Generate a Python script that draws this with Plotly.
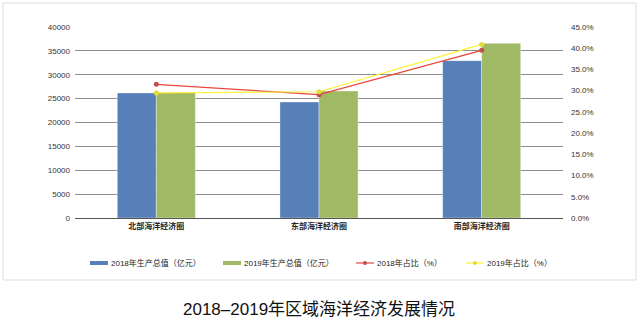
import plotly.graph_objects as go

# Regional ocean economy data
regions = ["北部海洋经济圈", "东部海洋经济圈", "南部海洋经济圈"]
gdp_2018 = [26200, 24300, 32950]          # 亿元
gdp_2019 = [26300, 26600, 36600]          # 亿元
share_2018 = [0.315, 0.2905, 0.395]       # 占比
share_2019 = [0.2945, 0.2975, 0.409]      # 占比

name_gdp18 = "2018年生产总值（亿元）"
name_gdp19 = "2019年生产总值（亿元）"
name_sh18 = "2018年占比（%）"
name_sh19 = "2019年占比（%）"

BLUE = "#5880B8"
GREEN = "#A0B964"
RED = "#E8473C"
RED_MK = "#C0504D"
YELLOW = "#FFF230"
YELLOW_MK = "#E6DB3A"

FONT = "Liberation Sans, Noto Sans CJK SC"

# plot area in pixels (used to place the legend row and frame)
L, R, T, B = 75, 563, 27, 218


def px_x(x):
    return (x - L) / (R - L)


def px_y(y):
    return (B - y) / (B - T)


fig = go.Figure()

fig.add_trace(go.Bar(x=regions, y=gdp_2018, name=name_gdp18, marker_color=BLUE,
                     marker_line=dict(color="rgba(255,255,255,0.6)", width=0.6)))
fig.add_trace(go.Bar(x=regions, y=gdp_2019, name=name_gdp19, marker_color=GREEN,
                     marker_line=dict(color="rgba(255,255,255,0.6)", width=0.6)))
fig.add_trace(go.Scatter(x=regions, y=share_2018, name=name_sh18, yaxis="y2",
                         mode="lines+markers", line=dict(color=RED, width=1.2),
                         marker=dict(color=RED_MK, size=5)))
fig.add_trace(go.Scatter(x=regions, y=share_2019, name=name_sh19, yaxis="y2",
                         mode="lines+markers", line=dict(color=YELLOW, width=1.2),
                         marker=dict(color=YELLOW_MK, size=5)))

# Custom legend row: short swatches followed by the series names
legend_items = [
    (name_gdp18, BLUE, None, 4, 90),
    (name_gdp19, GREEN, None, 4, 223),
    (name_sh18, RED, RED_MK, 1.2, 356),
    (name_sh19, YELLOW, YELLOW_MK, 1.2, 466),
]
shapes = [dict(type="rect", xref="paper", yref="paper",
               x0=px_x(3), x1=px_x(636), y0=px_y(280), y1=px_y(3),
               line=dict(color="#DDDDDD", width=1), layer="below")]
annotations = []
ly = 263
for name, color, mk, w, x0 in legend_items:
    shapes.append(dict(type="line", xref="paper", yref="paper",
                       x0=px_x(x0), x1=px_x(x0 + 18), y0=px_y(ly), y1=px_y(ly),
                       line=dict(color=color, width=w)))
    if mk:
        cx = x0 + 9
        shapes.append(dict(type="circle", xref="paper", yref="paper",
                           x0=px_x(cx - 2), x1=px_x(cx + 2),
                           y0=px_y(ly + 2), y1=px_y(ly - 2),
                           fillcolor=mk, line=dict(width=0)))
    annotations.append(dict(text=name, xref="paper", yref="paper",
                            x=px_x(x0 + 19), y=px_y(ly), xanchor="left",
                            yanchor="middle", showarrow=False,
                            font=dict(family=FONT, size=8, color="#222222")))

annotations.append(dict(text="2018–2019年区域海洋经济发展情况", xref="paper",
                        yref="paper", x=0.5, y=px_y(309), xanchor="center",
                        yanchor="middle", showarrow=False,
                        font=dict(family=FONT, size=17, color="#111111")))

fig.update_layout(
    width=640, height=336,
    margin=dict(l=L, r=640 - R, t=T, b=336 - B),
    paper_bgcolor="white", plot_bgcolor="white",
    font=dict(family=FONT, size=8, color="#333333"),
    showlegend=False,
    barmode="group", bargap=0.52, bargroupgap=0,
    xaxis=dict(showgrid=False, showline=True, linecolor="#555555", linewidth=1,
               ticks="", tickfont=dict(size=8, color="#222222", weight="bold"),
               fixedrange=True),
    yaxis=dict(range=[0, 40000], dtick=5000, tickformat="d", showgrid=True,
               gridcolor="#8E8E8E", gridwidth=1, zeroline=False, showline=False,
               ticks="", tickfont=dict(size=8, color="#333333"), ticklabelstandoff=4),
    yaxis2=dict(range=[0, 0.45], dtick=0.05, tickformat=".1%", overlaying="y",
                side="right", showgrid=False, zeroline=False, showline=False,
                ticks="", tickfont=dict(size=8, color="#333333"),
                ticklabelstandoff=7),
    shapes=shapes,
    annotations=annotations,
)

fig.write_html("out.html")
